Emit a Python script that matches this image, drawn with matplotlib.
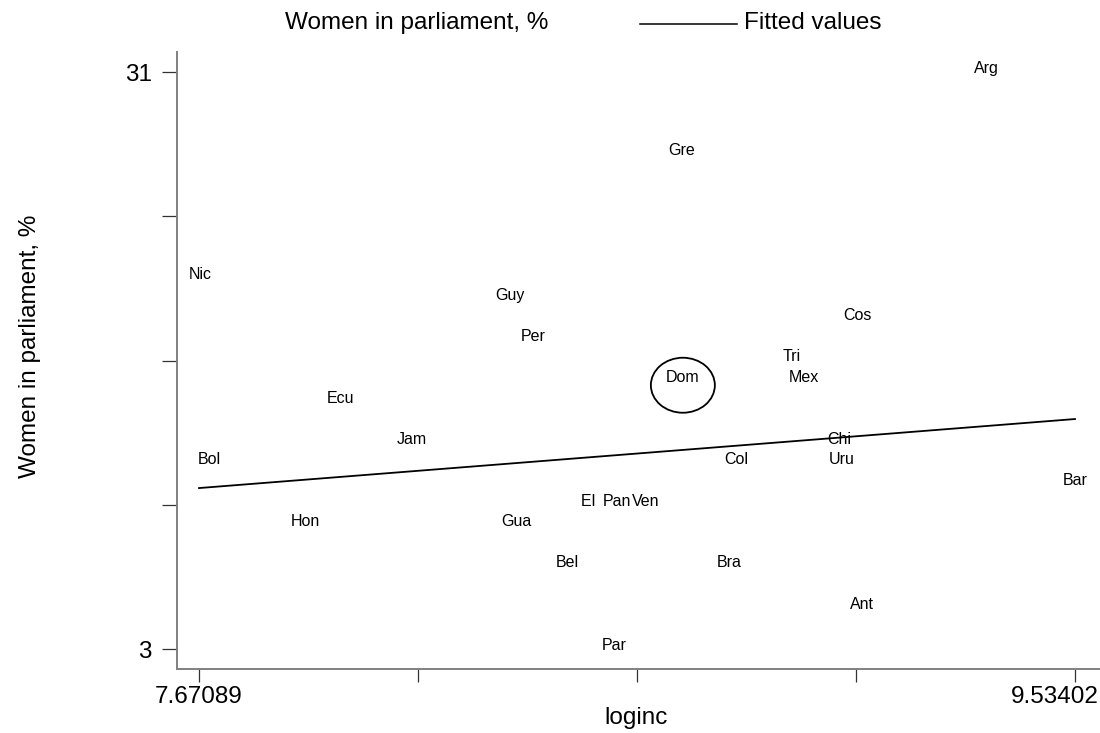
import matplotlib
matplotlib.use("Agg")
import matplotlib.pyplot as plt
import matplotlib.transforms as mtransforms
from matplotlib.lines import Line2D
from matplotlib.patches import Ellipse
import numpy as np

plt.rcParams['font.family'] = ['Liberation Sans', 'DejaVu Sans']

# Country labels, log income and share of women in parliament (%)
countries = ["Arg", "Gre", "Nic", "Guy", "Cos", "Per", "Tri", "Mex", "Dom",
             "Ecu", "Jam", "Chi", "Bol", "Col", "Uru", "Bar", "El ", "Pan",
             "Ven", "Gua", "Hon", "Bel", "Bra", "Ant", "Par"]
loginc = [9.345, 8.698, 7.673, 8.332, 9.072, 8.381, 8.932, 8.958, 8.700,
          7.971, 8.124, 9.032, 7.692, 8.813, 9.038, 9.534, 8.503, 8.560,
          8.620, 8.345, 7.898, 8.454, 8.798, 9.081, 8.554]
women = [31, 27, 21, 20, 19, 18, 17, 16, 16,
         15, 13, 13, 12, 12, 12, 11, 10, 10,
         10, 9, 9, 7, 7, 5, 3]

# Fitted values line (end points)
fit_x = [7.67089, 9.53402]
fit_y = [10.81, 14.16]

highlight = "Dom"

x_ticks = list(np.linspace(7.67089, 9.53402, 5))
x_ticklabels = ["7.67089", "", "", "", "9.53402"]
y_ticks = [3, 10, 17, 24, 31]
y_ticklabels = ["3", "", "", "", "31"]

W, H = 1100, 733
fig = plt.figure(figsize=(W / 100, H / 100), dpi=100)
ax = fig.add_axes([177 / W, (H - 669) / H, (W - 177) / W, (669 - 52) / H])

ax.set_xlim(7.6241, 9.5872)
ax.set_ylim(2.0295, 31.971)

# Labels used as markers
for name, xv, yv in zip(countries, loginc, women):
    ax.annotate(name, (xv, yv), xytext=(0, 2.6), textcoords="offset points",
                ha="center", va="center", fontsize=11.5, color="black")
    if name == highlight:
        ax.add_patch(Ellipse((xv, yv - 0.2), width=64 / 470.17, height=55 / 20.607,
                             fill=False, edgecolor="black", linewidth=1.3))

ax.plot(fit_x, fit_y, color="black", linewidth=1.3)

for side in ("top", "right"):
    ax.spines[side].set_visible(False)
for side in ("left", "bottom"):
    ax.spines[side].set_color("#808080")
    ax.spines[side].set_linewidth(1.4)

ax.set_xticks(x_ticks)
ax.set_xticklabels(x_ticklabels)
ax.set_yticks(y_ticks)
ax.set_yticklabels(y_ticklabels)
ax.tick_params(axis="x", length=9.5, width=0.9, color="#333333", pad=3, labelsize=17.5)
ax.tick_params(axis="y", length=11, width=0.9, color="#333333", pad=7, labelsize=17.5)

# Keep the last x tick label inside the figure edge
last = ax.get_xticklabels()[-1]
last.set_horizontalalignment("right")
last.set_transform(last.get_transform() +
                   mtransforms.ScaledTranslation(24 / 100, 0, fig.dpi_scale_trans))

fig.text(636 / W, 1 - 718 / H, "loginc", ha="center", va="center", fontsize=17.5)
fig.text(30 / W, 1 - 346 / H, "Women in parliament, %", ha="center", va="center",
         rotation=90, fontsize=17.5)

# Legend across the top
fig.text(285 / W, 1 - 23 / H, "Women in parliament, %", ha="left", va="center", fontsize=17.5)
fig.add_artist(Line2D([640 / W, 737 / W], [1 - 24 / H, 1 - 24 / H],
                      transform=fig.transFigure, color="black", linewidth=1.1))
fig.text(744 / W, 1 - 23 / H, "Fitted values", ha="left", va="center", fontsize=17.5)

fig.savefig("out.png", dpi=100, facecolor="white")
